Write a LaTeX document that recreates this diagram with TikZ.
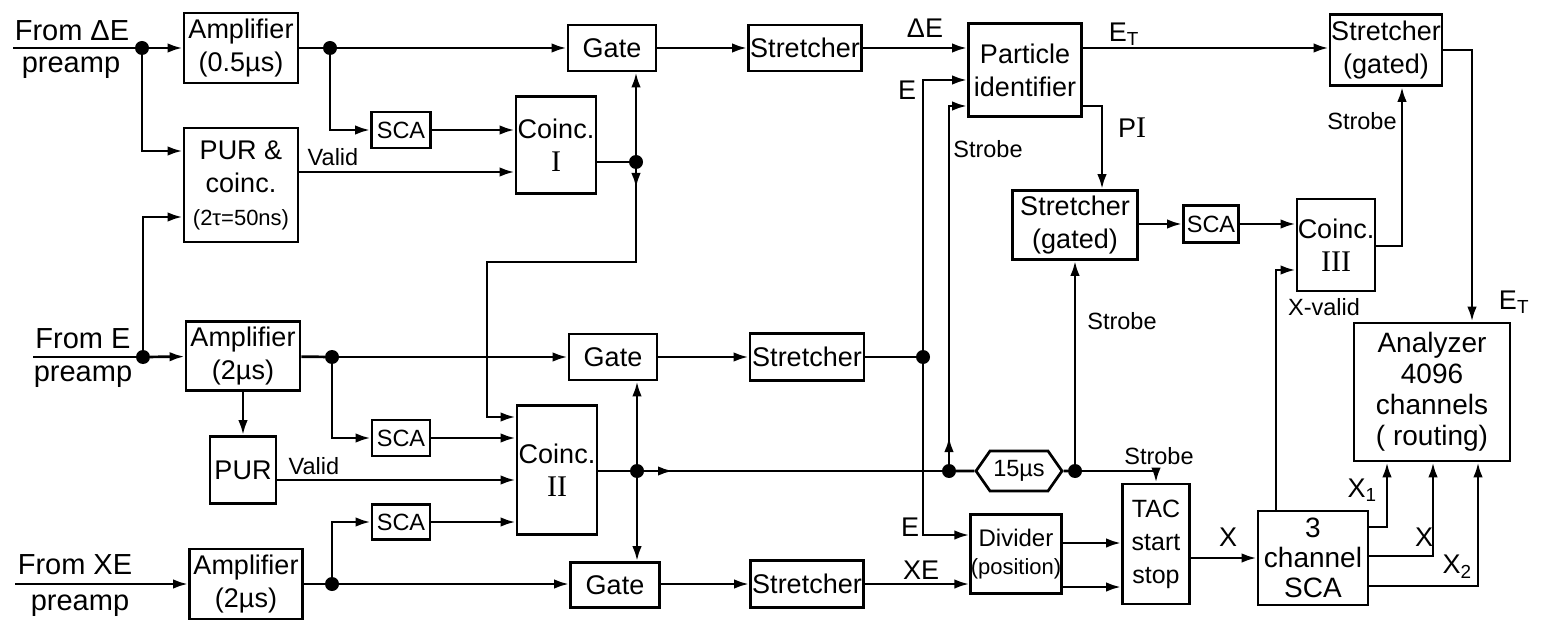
\documentclass[tikz,border=0pt]{standalone}
\usepackage{fontspec}
\setmainfont{Liberation Sans}
\newfontfamily\numfont{Liberation Serif}
\usetikzlibrary{arrows.meta,shapes.symbols}

\newcommand{\boxfont}{\fontsize{27}{33}\selectfont}
\newcommand{\lblfont}{\fontsize{23.5}{27}\selectfont}
\newcommand{\infont}{\fontsize{29}{34}\selectfont}
\newcommand{\smfont}{\fontsize{22}{25}\selectfont}
\newcommand{\numeral}[1]{{\numfont\fontsize{30}{33}\selectfont #1}}

\tikzset{
  blk/.style={draw, line width=2.7pt, inner sep=0pt, align=center, font=\boxfont},
  wire/.style={line width=2.7pt},
  arr/.style={line width=2.7pt, -{Latex[length=15pt,width=9.5pt]}},
  dot/.style={circle, fill, inner sep=0pt, minimum size=14pt},
  lbl/.style={inner sep=0pt, font=\lblfont},
  biglbl/.style={inner sep=0pt, font=\boxfont},
  inlbl/.style={inner sep=0pt, font=\infont},
}

\begin{document}
\begin{tikzpicture}[x=1pt, y=-1pt]
\useasboundingbox (0,0) rectangle (1544,620);

% Inputs from the preamps
\node[inlbl] (inAtxt) at (72,31) {From ΔE};
\node[inlbl] at (71,68) {preamp};
\node[inlbl] (inEtxt) at (83,339) {From E};
\node[inlbl] at (83,377) {preamp};
\node[inlbl] (inXtxt) at (75,565) {From XE};
\node[inlbl] at (80,606) {preamp};
\coordinate (inA) at (13,48);
\coordinate (inE) at (33,357);
\coordinate (inX) at (15,584);

% Amplifiers and pile-up rejection
\node[blk, minimum width=114pt, minimum height=70pt] (ampA) at (241,48) {Amplifier\\(0.5µs)};
\node[blk, minimum width=114pt, minimum height=114pt] (purc) at (241,185) {PUR \&\\coinc.\\{\smfont (2τ=50ns)}};
\node[blk, minimum width=114pt, minimum height=69pt] (ampE) at (243,356) {Amplifier\\(2µs)};
\node[blk, minimum width=66pt, minimum height=67pt] (pur) at (243,470) {PUR};
\node[blk, minimum width=113pt, minimum height=70pt] (ampX) at (246,584) {Amplifier\\(2µs)};

% Single channel analysers
\node[blk, font=\lblfont, minimum width=59pt, minimum height=36pt] (scaA) at (401,130) {SCA};
\node[blk, font=\lblfont, minimum width=58pt, minimum height=36pt] (scaE) at (401,438) {SCA};
\node[blk, font=\lblfont, minimum width=58pt, minimum height=35pt] (scaX) at (401,522) {SCA};

% Coincidences, gates and stretchers
\node[blk, minimum width=80pt, minimum height=97pt] (coincI) at (556,145) {Coinc.\\\numeral{I}};
\node[blk, minimum width=80pt, minimum height=129pt] (coincII) at (557,470) {Coinc.\\\numeral{II}};
\node[blk, minimum width=88pt, minimum height=46pt] (gateA) at (612,48) {Gate};
\node[blk, minimum width=88pt, minimum height=46pt] (gateE) at (613,357) {Gate};
\node[blk, minimum width=89pt, minimum height=45pt] (gateX) at (615,585) {Gate};
\node[blk, minimum width=113pt, minimum height=46pt] (strA) at (805,48) {Stretcher};
\node[blk, minimum width=114pt, minimum height=47pt] (strE) at (807,357) {Stretcher};
\node[blk, minimum width=113pt, minimum height=47pt] (strX) at (807,584) {Stretcher};

% Identification and position
\node[blk, minimum width=113pt, minimum height=93pt] (pid) at (1025,70) {Particle\\identifier};
\node[blk, minimum width=125pt, minimum height=69pt] (strgPI) at (1075,225) {Stretcher\\(gated)};
\node[blk, font=\lblfont, minimum width=55pt, minimum height=37pt] (scaPI) at (1211,224) {SCA};
\node[blk, minimum width=78pt, minimum height=92pt] (coincIII) at (1336,245) {Coinc.\\\numeral{III}};
\node[blk, minimum width=112pt, minimum height=71pt] (strgET) at (1386,50) {Stretcher\\(gated)};
\node[blk, font=\fontsize{28}{31}\selectfont, minimum width=156pt, minimum height=138pt] (analyzer) at (1432,392) {Analyzer\\4096\\channels\\( routing)};
\node[draw, line width=2.7pt, signal, signal to=west and east, signal pointer angle=110,
      inner sep=0pt, minimum width=86pt, minimum height=40pt, font=\lblfont] (delay) at (1019,471) {15µs};
\node[blk, font=\fontsize{24}{28}\selectfont, minimum width=89pt, minimum height=79pt] (divider) at (1016,554) {Divider\\{\smfont (position)}};
\node[blk, font=\fontsize{25}{33}\selectfont, minimum width=67pt, minimum height=120pt] (tac) at (1156,544) {TAC\\start\\stop};
\node[blk, font=\fontsize{28}{30}\selectfont, minimum width=110pt, minimum height=94pt] (scaIII) at (1313,558) {3\\channel\\SCA};

% Junctions
\node[dot] (dA) at (142,48) {};
\node[dot] (dAamp) at (330,48) {};
\node[dot] (dE) at (143,357) {};
\node[dot] (dEamp) at (332,357) {};
\node[dot] (dXamp) at (332,584) {};
\node[dot] (jI) at (636,162) {};
\node[dot] (jII) at (637,471) {};
\node[dot] (dS) at (923,357) {};
\node[dot] (dL) at (949,471) {};
\node[dot] (dR) at (1075,471) {};
\coordinate (bendA) at (636,262);
\coordinate (bendB) at (487,262);

% Delta E branch
\draw[wire] (inA) -- (dA);
\draw[arr] (dA) -- (ampA);
\draw[arr] (dA) |- (purc.west |- 0,151);
\draw[wire] (ampA) -- (dAamp);
\draw[arr] (dAamp) -- (gateA);
\draw[arr] (dAamp) |- (scaA);
\draw[arr] (scaA) -- (scaA -| coincI.west);
\draw[arr] (purc.east |- 0,172) -- (coincI.west |- 0,172);
\node[lbl] at (333,157) {Valid};
\draw[wire] (coincI.east |- jI) -- (jI);
\draw[arr] (jI) -- (jI |- gateA.south);
\draw[arr] (jI) -- ++(0,26);
\draw[arr] (jI) -- (bendA) -- (bendB) |- (coincII.west |- 0,417);

% E branch
\draw[wire] (inE) -- (dE);
\draw[arr] (dE) -- (ampE);
\draw[arr] (dE) |- (purc.west |- 0,217);
\draw[wire] (ampE) -- (dEamp);
\draw[arr] (dEamp) -- (gateE);
\draw[arr] (dEamp) |- (scaE);
\draw[arr] (scaE) -- (scaE -| coincII.west);
\draw[arr] (ampE) -- (pur);
\draw[arr] (pur.east |- 0,480) -- (coincII.west |- 0,480);
\node[lbl] at (314,466) {Valid};

% XE branch
\draw[arr] (inX) -- (ampX);
\draw[wire] (ampX) -- (dXamp);
\draw[arr] (dXamp) -- (dXamp -| gateX.west);
\draw[arr] (dXamp) |- (scaX);
\draw[arr] (scaX) -- (scaX -| coincII.west);

% Coinc II output to gates and delay
\draw[wire] (coincII.east |- jII) -- (jII);
\draw[arr] (jII) -- (jII |- gateE.south);
\draw[arr] (jII) -- (jII |- gateX.north);
\draw[wire] (jII) -- (dL);
\draw[arr] (jII) -- ++(36,0);
\draw[wire] (dL) -- (delay);
\draw[wire] (delay) -- (dR);

% Gates to stretchers
\draw[arr] (gateA) -- (strA);
\draw[arr] (gateE) -- (strE);
\draw[arr] (gateX.east |- strX) -- (strX);
\draw[arr] (strA) -- (strA -| pid.west);
\node[biglbl] at (925,28) {ΔE};
\draw[wire] (strE) -- (dS);
\draw[arr] (dS) |- (pid.west |- 0,80);
\node[biglbl] at (907,90) {E};
\draw[arr] (dS) |- (divider.west |- 0,535);
\node[biglbl] at (910,527) {E};
\draw[arr] (strX) -- (strX -| divider.west);
\node[biglbl] at (921,570) {XE};

% Strobes
\draw[arr] (dL) |- (pid.west |- 0,106);
\draw[arr] (dL) -- ++(0,-34);
\node[lbl] at (988,149) {Strobe};
\draw[arr] (dR) -- (dR |- strgPI.south);
\node[lbl] at (1122,321) {Strobe};
\draw[arr] (dR) -| (tac.north);
\node[lbl] at (1159,456) {Strobe};

% Particle identifier outputs
\draw[arr] (pid.east |- 0,48) -- (strgET.west |- 0,48);
\node[biglbl] at (1124,34) {E\textsubscript{T}};
\draw[arr] (pid.east |- 0,106) -| (strgPI.north -| 1102,0);
\node[biglbl] at (1132,128) {P\numeral{I}};
\draw[arr] (strgPI.east |- scaPI) -- (scaPI);
\draw[arr] (scaPI) -- (scaPI -| coincIII.west);
\draw[arr] (coincIII.east |- 0,246) -| (strgET.south -| 1402,0);
\node[lbl] at (1362,121) {Strobe};
\draw[arr] (strgET.east |- 0,50) -| (analyzer.north -| 1472,0);
\node[biglbl] at (1514,302) {E\textsubscript{T}};

% Position chain
\draw[arr] (divider.east |- 0,543) -- (tac.west |- 0,543);
\draw[arr] (divider.east |- 0,587) -- (tac.west |- 0,587);
\draw[arr] (tac.east |- scaIII) -- (scaIII);
\node[biglbl] at (1228,537) {X};
\draw[arr] (scaIII.north -| 1276,0) |- (coincIII.west |- 0,270);
\node[lbl] at (1324,307) {X-valid};
\draw[arr] (scaIII.east |- 0,527) -| (analyzer.south -| 1387,0);
\node[biglbl] at (1362,490) {X\textsubscript{1}};
\draw[arr] (scaIII.east |- 0,556) -| (analyzer.south -| 1433,0);
\node[biglbl] at (1424,537) {X};
\draw[arr] (scaIII.east |- 0,586) -| (analyzer.south -| 1478,0);
\node[biglbl] at (1457,567) {X\textsubscript{2}};
\end{tikzpicture}
\end{document}
